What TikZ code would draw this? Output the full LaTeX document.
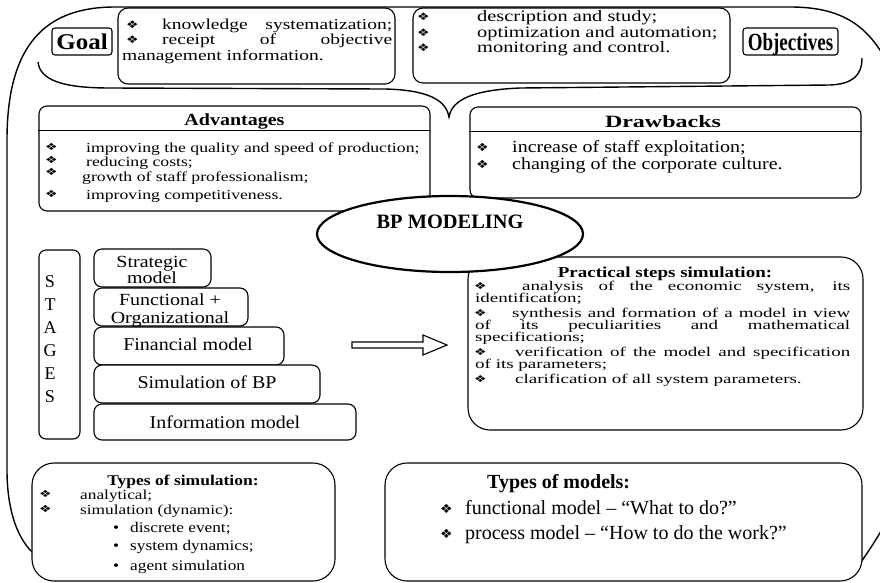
\documentclass[tikz,border=0pt]{standalone}
\usepackage{graphicx}
\usepackage{fontspec}
\setmainfont{Liberation Serif}
\newfontfamily\symf{DejaVu Sans}
\usetikzlibrary{shapes.geometric}
\newcommand\dia{{\symf\fontsize{14}{14}\selectfont ❖}}
\newcommand\sq[2]{\scalebox{1}[#1]{#2}}
\newcommand\fs[1]{\fontsize{#1}{#1}\selectfont}
\newcommand\js[2]{\makebox[#1pt][s]{#2}}
\begin{document}
\begin{tikzpicture}[x=1pt,y=-1pt,
  bx/.style={draw, fill=white, line width=1.1pt, inner sep=0pt, rounded corners=#1},
  bx/.default=8,
  ol/.style={line width=1.4pt},
  tl/.style={anchor=base west, inner sep=0pt},
  tc/.style={anchor=base, inner sep=0pt}]
\useasboundingbox (0,0) rectangle (880,582);
\fill[white] (0,0) rectangle (880,582);
\clip (0,0) rectangle (880,582);

% outer outline and brace
\draw[ol] (32,552) .. controls (15,535) and (7,505) .. (7,470) -- (7,140)
  .. controls (7,45) and (45,7) .. (115,7) -- (790,7)
  .. controls (840,7) and (866,24) .. (886,60);
\draw[ol] (861,562) .. controls (868,552) and (876,540) .. (884,526);
\draw[ol] (38,62) .. controls (40,80) and (62,88) .. (110,88) -- (385,89)
  .. controls (428,90) and (446,100) .. (449,117)
  .. controls (452,100) and (472,90) .. (520,88) -- (830,85)
  .. controls (852,84) and (862,76) .. (862,58);

% top boxes
\node[bx=3, minimum width=60pt, minimum height=27pt] (goal) at (82,41.5) {};
\node[tc] (goalt) at (82,49) {\sq{0.9}{\fs{25}\bfseries Goal}};
\node[bx=10, minimum width=277pt, minimum height=76pt] (goalbox) at (256.5,46) {};
\node[tl] (g1b) at (126,28) {\sq{0.75}{\dia}};
\node[tl] (g1) at (162,29) {\sq{0.78}{\fs{19.5}\js{230}{knowledge systematization;}}};
\node[tl] (g2b) at (126,43) {\sq{0.75}{\dia}};
\node[tl] (g2) at (162,44) {\sq{0.78}{\fs{19.5}\js{230}{receipt of objective}}};
\node[tl] (g3) at (122,60) {\sq{0.78}{\fs{19.5}management information.}};

\node[bx=10, minimum width=317pt, minimum height=75pt] (objbox) at (571.5,45.5) {};
\node[tl] (o1b) at (417,20) {\sq{0.75}{\dia}};
\node[tl] (o1) at (477,21) {\sq{0.78}{\fs{20.4}description and study;}};
\node[tl] (o2b) at (417,36) {\sq{0.75}{\dia}};
\node[tl] (o2) at (477,37) {\sq{0.78}{\fs{20.4}optimization and automation;}};
\node[tl] (o3b) at (417,51) {\sq{0.75}{\dia}};
\node[tl] (o3) at (477,52) {\sq{0.78}{\fs{20.4}monitoring and control.}};
\node[bx=3, minimum width=95pt, minimum height=27pt] (obj) at (790.5,41.5) {};
\node[tc] (objt) at (790.5,50) {\sq{1.3}{\fs{19}\bfseries Objectives}};

% advantages
\node[bx=8, minimum width=391pt, minimum height=105pt] (adv) at (234.5,158.5) {};
\draw[line width=1.1pt] ([yshift=-25pt]adv.north west) -- ([yshift=-25pt]adv.north east);
\node[tc] (advt) at (234.5,125) {\sq{0.85}{\fs{20}\bfseries Advantages}};
\node[tl] (a1b) at (45,150) {\sq{0.7}{\dia}};
\node[tl] (a1) at (86,152) {\sq{0.78}{\fs{17.7}improving the quality and speed of production;}};
\node[tl] (a2b) at (45,163) {\sq{0.7}{\dia}};
\node[tl] (a2) at (86,166) {\sq{0.78}{\fs{17.7}reducing costs;}};
\node[tl] (a3b) at (45,175) {\sq{0.7}{\dia}};
\node[tl] (a3) at (82,181) {\sq{0.78}{\fs{17.7}growth of staff professionalism;}};
\node[tl] (a4b) at (45,197) {\sq{0.7}{\dia}};
\node[tl] (a4) at (86,199) {\sq{0.78}{\fs{17.7}improving competitiveness.}};

% drawbacks
\node[bx=8, minimum width=391pt, minimum height=91pt] (drw) at (665.5,152.5) {};
\draw[line width=1.1pt] ([yshift=-25pt]drw.north west) -- ([yshift=-25pt]drw.north east);
\node[tc] (drwt) at (663,127) {\sq{0.72}{\fs{24}\bfseries Drawbacks}};
\node[tl] (d1b) at (476,151) {\sq{0.8}{\dia}};
\node[tl] (d1) at (512,152) {\sq{0.85}{\fs{20}increase of staff exploitation;}};
\node[tl] (d2b) at (476,168) {\sq{0.8}{\dia}};
\node[tl] (d2) at (512,169) {\sq{0.85}{\fs{20}changing of the corporate culture.}};

% practical steps
\node[bx=22, minimum width=395pt, minimum height=173pt] (prac) at (665.5,343.5) {};
\node[tc] (pt) at (665,277) {\sq{0.8}{\fs{19}\bfseries Practical steps simulation:}};
\node[tl] (p1b) at (474,289) {\sq{0.68}{\dia}};
\node[tl] (p1) at (522,290) {\sq{0.7}{\fs{19}\js{328}{analysis of the economic system, its}}};
\node[tl] (p2) at (475,302) {\sq{0.7}{\fs{19}identification;}};
\node[tl] (p3b) at (474,316) {\sq{0.68}{\dia}};
\node[tl] (p3) at (512,317) {\sq{0.7}{\fs{19}\js{338}{synthesis and formation of a model in view}}};
\node[tl] (p4) at (475,329) {\sq{0.7}{\fs{19}\js{375}{of its peculiarities and mathematical}}};
\node[tl] (p5) at (475,341) {\sq{0.7}{\fs{19}specifications;}};
\node[tl] (p6b) at (474,355) {\sq{0.68}{\dia}};
\node[tl] (p6) at (515,356) {\sq{0.7}{\fs{19}\js{335}{verification of the model and specification}}};
\node[tl] (p7) at (475,368) {\sq{0.7}{\fs{19}of its parameters;}};
\node[tl] (p8b) at (474,382) {\sq{0.68}{\dia}};
\node[tl] (p8) at (515,383) {\sq{0.7}{\fs{19}clarification of all system parameters.}};

% BP modeling ellipse
\node[draw, fill=white, ellipse, line width=2.2pt, minimum width=266pt, minimum height=76pt, inner sep=0pt] (bp) at (450,234) {};
\node[tc] (bpt) at (450,228) {\fs{20.4}\bfseries BP MODELING};

% stages
\node[bx=7, minimum width=41pt, minimum height=189pt] (stg) at (59.5,344.5) {};
\node[tc] (s1) at (50,287) {\fs{18}S};
\node[tc] (s2) at (50,310) {\fs{18}T};
\node[tc] (s3) at (50,333) {\fs{18}A};
\node[tc] (s4) at (50,356) {\fs{18}G};
\node[tc] (s5) at (50,379) {\fs{18}E};
\node[tc] (s6) at (50,402) {\fs{18}S};

\node[bx=8, minimum width=117pt, minimum height=38pt] (st1) at (152.5,268) {};
\node[tc] (st1a) at (152,267) {\sq{0.85}{\fs{20}Strategic}};
\node[tc] (st1b) at (152,283) {\sq{0.85}{\fs{20}model}};
\node[bx=8, minimum width=154pt, minimum height=38pt] (st2) at (171,307) {};
\node[tc] (st2a) at (170,305) {\sq{0.85}{\fs{20}Functional +}};
\node[tc] (st2b) at (170,323) {\sq{0.85}{\fs{20}Organizational}};
\node[bx=8, minimum width=190pt, minimum height=38pt] (st3) at (189,346) {};
\node[tc] (st3a) at (188,350) {\sq{0.9}{\fs{20}Financial model}};
\node[bx=8, minimum width=226pt, minimum height=38pt] (st4) at (207,384) {};
\node[tc] (st4a) at (207,388) {\sq{0.9}{\fs{20}Simulation of BP}};
\node[bx=8, minimum width=262pt, minimum height=36pt] (st5) at (225,422) {};
\node[tc] (st5a) at (225,428) {\sq{0.9}{\fs{20}Information model}};

% block arrow
\coordinate (arS) at (352,345);
\draw[line width=1.1pt, fill=white] (arS) ++(0,-3) -- ++(71,0) -- ++(0,-7) -- ++(24,10)
  -- ++(-24,10) -- ++(0,-7) -- ++(-71,0) -- cycle;

% types of simulation
\node[bx=22, minimum width=303pt, minimum height=118pt] (tsim) at (183.5,522) {};
\node[tc] (tst) at (183,485) {\sq{0.85}{\fs{17.5}\bfseries Types of simulation:}};
\node[tl] (ts1b) at (39,497) {\sq{0.7}{\dia}};
\node[tl] (ts1) at (80,499) {\sq{0.8}{\fs{17.3}analytical;}};
\node[tl] (ts2b) at (39,512) {\sq{0.7}{\dia}};
\node[tl] (ts2) at (80,514) {\sq{0.8}{\fs{17.3}simulation (dynamic):}};
\node[tl] (ts3b) at (113,532) {\sq{0.85}{\fs{17.3}•}};
\node[tl] (ts3) at (130,532) {\sq{0.85}{\fs{17.3}discrete event;}};
\node[tl] (ts4b) at (113,550) {\sq{0.85}{\fs{17.3}•}};
\node[tl] (ts4) at (130,550) {\sq{0.85}{\fs{17.3}system dynamics;}};
\node[tl] (ts5b) at (113,570) {\sq{0.85}{\fs{17.3}•}};
\node[tl] (ts5) at (130,570) {\sq{0.85}{\fs{17.3}agent simulation}};

% types of models
\node[bx=22, minimum width=477pt, minimum height=118pt] (tmod) at (623.5,522) {};
\node[tl] (tmt) at (487,488) {\fs{20}\bfseries Types of models:};
\node[tl] (tm1b) at (440,513) {\sq{0.9}{\dia}};
\node[tl] (tm1) at (465,514) {\fs{20}functional model – “What to do?”};
\node[tl] (tm2b) at (440,538) {\sq{0.9}{\dia}};
\node[tl] (tm2) at (465,539) {\fs{20}process model – “How to do the work?”};
\end{tikzpicture}
\end{document}
